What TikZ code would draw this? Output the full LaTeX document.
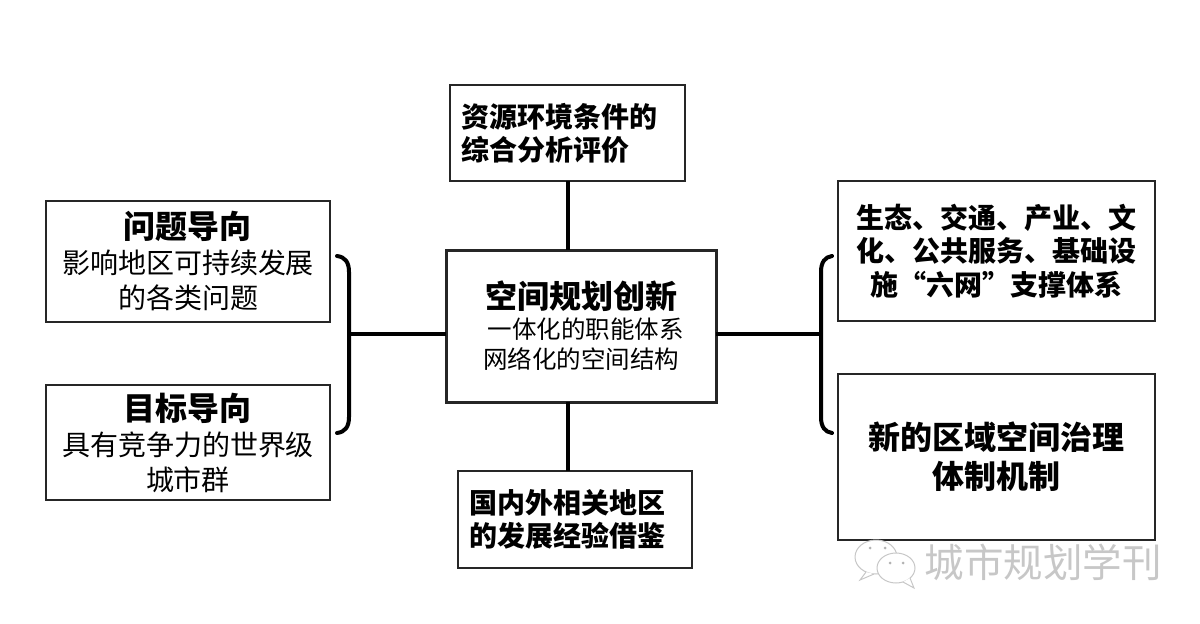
\documentclass[tikz,border=0pt]{standalone}
\usepackage{fontspec}
\setmainfont{Noto Sans CJK SC}
\tikzset{
boxnode/.style={draw=black!85,line width=1.6pt,inner sep=0pt,outer sep=0pt,anchor=north west,align=center},
leftbox/.style={boxnode,font=\fontsize{28}{33}\selectfont\bfseries,align=left,inner xsep=11pt},
rightbox/.style={boxnode,font=\fontsize{28}{33.5}\selectfont\bfseries},
sidebox/.style={boxnode,font=\fontsize{28}{35}\selectfont},
mainline/.style={line width=4pt,line cap=round},
markgray/.style={draw=black!22,line width=1pt,fill=white}
}
\newcommand{\headtext}[1]{{\fontsize{32}{33}\selectfont\bfseries #1}}
\begin{document}
\begin{tikzpicture}[x=1pt,y=-1pt]
\useasboundingbox (0,0) rectangle (1200,624);
\node (topbox) [leftbox,minimum width=235pt,minimum height=96pt,text width=213pt] at (450,85) {资源环境条件的\\综合分析评价};
\node (problem) [sidebox,minimum width=284pt,minimum height=121pt] at (46,201) {\headtext{问题导向}\\影响地区可持续发展\\的各类问题};
\node (goal) [sidebox,minimum width=284pt,minimum height=115pt] at (46,385) {\headtext{目标导向}\\具有竞争力的世界级\\城市群};
\node (centre) [boxnode,line width=3pt,minimum width=270pt,minimum height=152pt,font=\fontsize{24.5}{30}\selectfont] at (446,250)
	{{\fontsize{32}{40}\selectfont\bfseries 空间规划创新}\\\hspace*{9pt}一体化的职能体系\\网络化的空间结构};
\node (bottombox) [leftbox,minimum width=234pt,minimum height=97pt,text width=212pt] at (458,471) {国内外相关地区\\的发展经验借鉴};
\node (network) [rightbox,minimum width=317pt,minimum height=140pt] at (838,181) {生态、交通、产业、文\\化、公共服务、基础设\\施“六网”支撑体系};
\node (governance) [boxnode,minimum width=317pt,minimum height=166pt,font=\fontsize{32}{39}\selectfont\bfseries] at (838,374) {新的区域空间治理\\体制机制};
% left and right brackets
\coordinate (leftmid) at (349,334);
\coordinate (rightmid) at (821,334);
\draw[mainline] (337,256) .. controls (345,257) and (349,262) .. (349,272) -- (leftmid) -- (349,417) .. controls (349,427) and (345,432) .. (337,433);
\draw[mainline] (832,256) .. controls (825,257) and (821,262) .. (821,272) -- (rightmid) -- (821,417) .. controls (821,427) and (825,432) .. (832,433);
\draw[mainline,line cap=butt] (leftmid) -- (leftmid -| centre.west);
\draw[mainline,line cap=butt] (rightmid) -- (rightmid -| centre.east);
\draw[mainline,line cap=butt] (topbox.south) -- (topbox.south |- centre.north);
\draw[mainline,line cap=butt] (topbox.south |- centre.south) -- (topbox.south |- bottombox.north);
% watermark
\draw[markgray] (876,557) ellipse (21pt and 17pt);
\draw[markgray] (866,572) -- (860,580) -- (874,574);
\draw[markgray] (896,568) ellipse (19pt and 15pt);
\draw[markgray] (903,582) -- (914,588) -- (910,578);
\foreach \eyex/\eyey in {870/548,885/548,890/563,903/563}
	\fill[black!30] (\eyex,\eyey) circle (1.5pt);
\node (marktext) [text=black!22,font=\fontsize{39.5}{39.5}\selectfont,inner sep=0pt] at (1043,562) {城市规划学刊};
\end{tikzpicture}
\end{document}
